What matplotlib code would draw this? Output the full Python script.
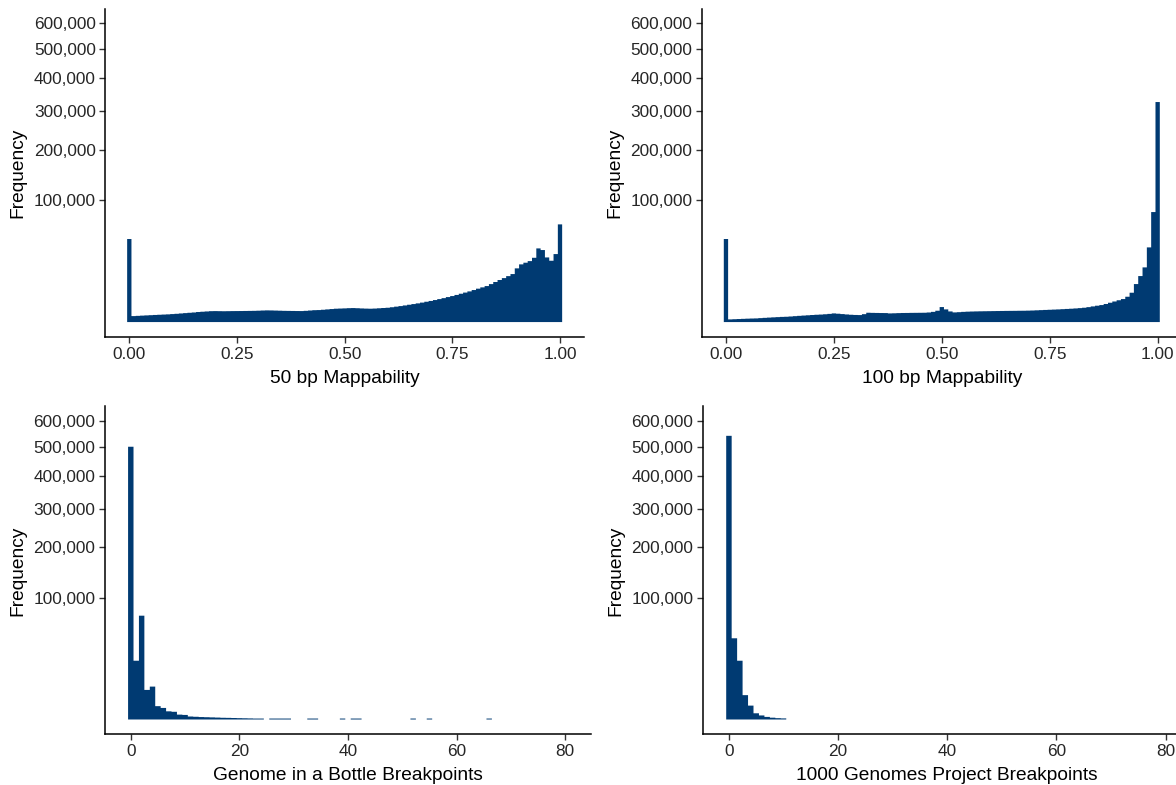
import numpy as np
import matplotlib
matplotlib.use("Agg")
import matplotlib.pyplot as plt
from matplotlib.ticker import FuncFormatter, FixedLocator

plt.rcParams['font.family'] = ['Liberation Sans', 'DejaVu Sans']

# ---------------- data ----------------
map_centers = [round(i * 0.01, 2) for i in range(101)]

map50_counts = [
    46400, 240, 260, 280, 300, 320, 340, 360, 380, 400,
    430, 460, 500, 540, 580, 620, 680, 720, 760, 800,
    810, 800, 790, 800, 810, 815, 820, 830, 840, 850,
    870, 900, 920, 910, 890, 870, 850, 840, 830, 820,
    815, 850, 900, 950, 970, 1020, 1080, 1140, 1200, 1230,
    1260, 1300, 1320, 1290, 1250, 1220, 1200, 1230, 1280, 1330,
    1380, 1480, 1600, 1720, 1860, 2020, 2180, 2350, 2550, 2780,
    3000, 3260, 3550, 3850, 4200, 4550, 4950, 5400, 5850, 6330,
    6900, 7500, 8100, 8720, 9700, 10800, 11900, 13000, 14200, 15500,
    19400, 22400, 23700, 25000, 27800, 36500, 34900, 28100, 25300, 31100,
    64200]

map100_counts = [
    46400, 48, 55, 62, 70, 78, 85, 90, 105, 120,
    135, 150, 165, 180, 190, 210, 235, 260, 285, 310,
    335, 360, 380, 410, 450, 505, 470, 430, 390, 360,
    340, 330, 420, 586, 570, 560, 550, 545, 505, 520,
    540, 555, 560, 570, 575, 580, 586, 620, 700, 864,
    1514, 1080, 760, 629, 660, 700, 730, 750, 766, 780,
    790, 800, 810, 820, 830, 840, 845, 850, 860, 864,
    880, 900, 930, 960, 990, 1020, 1050, 1080, 1120, 1160,
    1200, 1250, 1310, 1382, 1500, 1650, 1800, 1945, 2200, 2515,
    2850, 3200, 3560, 4318, 5790, 9717, 14240, 20110, 37510, 81420,
    325700]

bp_centers = list(range(81))

giab_counts = [
    502000, 23300, 72700, 5900, 7300, 1200, 900, 450, 400, 160,
    140, 60, 50, 40, 35, 30, 25, 20, 18, 15,
    12, 10, 8, 6, 6, 0, 6, 6, 6, 6,
    0, 0, 0, 6, 6, 0, 0, 0, 0, 6,
    0, 6, 6, 0, 0, 0, 0, 0, 0, 0,
    0, 0, 6, 0, 0, 6, 0, 0, 0, 0,
    0, 0, 0, 0, 0, 0, 6, 0, 0, 0,
    0, 0, 0, 0, 0, 0, 0, 0, 0, 0,
    0]

kg_counts = [
    543000, 44500, 23300, 4000, 1300, 260, 110, 45, 22, 12,
    8, 0] + [0] * 69

y_ticks = [100000, 200000, 300000, 400000, 500000, 600000]
map_ticks = [0.0, 0.25, 0.5, 0.75, 1.0]
bp_ticks = [0, 20, 40, 60, 80]

titles = ["50 bp Mappability", "100 bp Mappability",
          "Genome in a Bottle Breakpoints", "1000 Genomes Project Breakpoints"]

BAR = '#003a72'

# ---------------- figure ----------------
W, H = 1176, 785
fig = plt.figure(figsize=(W / 100, H / 100), dpi=100)


def axes_px(left, top, right, bottom):
    return fig.add_axes([left / W, 1 - bottom / H, (right - left) / W, (bottom - top) / H])


def fwd(v):
    v = np.asarray(v, dtype=float)
    return np.sign(v) * np.sqrt(np.abs(v))


def inv(v):
    v = np.asarray(v, dtype=float)
    return np.sign(v) * v ** 2


def edges_from_centers(c, w):
    c = np.asarray(c, dtype=float)
    return np.append(c - w / 2, c[-1] + w / 2)


panels = [
    (axes_px(105.4, 8.5, 583.9, 337), map_centers, map50_counts, 0.01,
     (-0.0555, 1.0555), map_ticks, "{:.2f}"),
    (axes_px(702, 8.5, 1181.6, 337), map_centers, map100_counts, 0.01,
     (-0.0555, 1.0555), map_ticks, "{:.2f}"),
    (axes_px(105, 406.4, 591, 734.4), bp_centers, giab_counts, 1.0,
     (-4.75, 84.75), bp_ticks, "{:.0f}"),
    (axes_px(703, 406.4, 1191.6, 734.4), bp_centers, kg_counts, 1.0,
     (-4.75, 84.75), bp_ticks, "{:.0f}"),
]

top_sqrt = np.sqrt(max(y_ticks))
ylim = (-(0.05 * top_sqrt) ** 2, (1.05 * top_sqrt) ** 2)

for (ax, centers, counts, w, xlim, xt, fmt), title in zip(panels, titles):
    ax.set_yscale('function', functions=(fwd, inv))
    st = ax.stairs(counts, edges_from_centers(centers, w), fill=True,
                   color=BAR, linewidth=0, baseline=0)
    st.set_snap(False)
    ax.set_xlim(*xlim)
    ax.set_ylim(*ylim)
    ax.yaxis.set_major_locator(FixedLocator(y_ticks))
    ax.yaxis.set_minor_locator(FixedLocator([]))
    ax.yaxis.set_major_formatter(FuncFormatter(lambda v, p: f"{v:,.0f}"))
    ax.set_xticks(xt)
    ax.xaxis.set_major_formatter(FuncFormatter(lambda v, p, f=fmt: f.format(v)))
    for s in ['top', 'right']:
        ax.spines[s].set_visible(False)
    for s in ['left', 'bottom']:
        ax.spines[s].set_linewidth(1.1)
        ax.spines[s].set_color('black')
    ax.tick_params(axis='both', length=4, width=1.0, color='#333333',
                   labelsize=12.4, labelcolor='#262626', pad=3)
    ax.set_xlabel(title, fontsize=13.8, color='black', labelpad=6)
    ax.set_ylabel("Frequency", fontsize=13.8, color='black', labelpad=5)
    ax.set_facecolor('white')

fig.savefig("out.png", dpi=100, facecolor='white')
